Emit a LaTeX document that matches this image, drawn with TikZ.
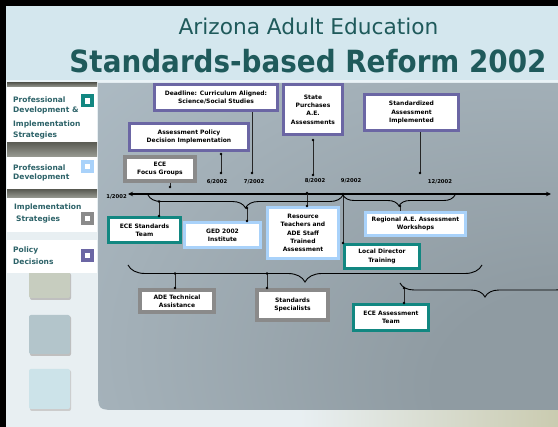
\documentclass[tikz,border=0pt]{standalone}
\usepackage{fontspec}
\setmainfont{DejaVu Sans}
\usepackage{graphicx}
\usepackage{tikz}
\usetikzlibrary{arrows.meta,decorations.pathreplacing}

\definecolor{headblue}{HTML}{D4E7EE}
\definecolor{titleteal}{HTML}{1F5A5B}
\definecolor{sidetext}{HTML}{2C6268}
\definecolor{sidebg}{HTML}{E8EFF2}
\definecolor{stripedark}{HTML}{5F6058}
\definecolor{stripelight}{HTML}{9A9C94}
\definecolor{panelL}{HTML}{B7C6D0}
\definecolor{panelM}{HTML}{A3B0B8}
\definecolor{panelD}{HTML}{8F9BA2}
\definecolor{bottomtan}{HTML}{CACBB0}
\definecolor{boxpurple}{HTML}{6B66A4}
\definecolor{boxteal}{HTML}{128781}
\definecolor{boxblue}{HTML}{A9D2FA}
\definecolor{boxgray}{HTML}{8A8A8A}
\definecolor{sqgreen}{HTML}{C7CDBF}
\definecolor{sqblue}{HTML}{B3C5CB}
\definecolor{sqcyan}{HTML}{CCE3E9}

\pgfdeclareradialshading{panelglow}{\pgfpoint{31bp}{-25bp}}{%
  color(0bp)=(panelD); color(15bp)=(panelD); color(42bp)=(panelM);
  color(72bp)=(panelL); color(110bp)=(panelL)}

\newcommand{\boxfont}{\fontsize{6}{8.3}\selectfont\bfseries}
\newcommand{\datefont}{\fontsize{5.3}{6}\selectfont\bfseries}
\newcommand{\sidefont}{\fontsize{7.5}{11.5}\selectfont\bfseries}

\tikzset{
  box/.style={fill=white, align=center, font=\boxfont, inner sep=1pt},
  purplebox/.style={box, draw=boxpurple, line width=3pt},
  graybox/.style={box, draw=boxgray, line width=4pt},
  tealbox/.style={box, draw=boxteal, line width=3pt},
  bluebox/.style={box, draw=boxblue, line width=3pt},
  datelbl/.style={font=\datefont, inner sep=0pt},
  sidetxt/.style={font=\sidefont, text=sidetext, align=left, inner sep=0pt, anchor=west},
  conn/.style={line width=1pt, black!85},
  timeline/.style={line width=1.4pt, arrows={Stealth[length=5pt,width=4.5pt]-Stealth[length=5pt,width=4.5pt]}},
  bracket/.style={decorate, decoration={brace, mirror, amplitude=#1}, line width=0.9pt}
}

\begin{document}
\begin{tikzpicture}[x=1pt, y=-1pt]
    \useasboundingbox (0,0) rectangle (558,427);

    % Background and frame
    \fill[sidebg] (0,0) rectangle (558,427);
    \shade[left color=sidebg, right color=bottomtan] (300,410) rectangle (558,427);
    \fill[headblue] (6,6) rectangle (558,83);
    \fill[white!50!headblue] (6,80) rectangle (558,83);
    \fill[black] (0,0) rectangle (558,6);
    \fill[black] (0,0) rectangle (6,427);

    % Main panel
    \shade[shading=panelglow] (98,83) -- (558,83) -- (558,410)
        -- (118,410) .. controls (98,410) .. (98,390) -- cycle;

    % Title
    \node[font=\fontsize{21.7}{26}\selectfont, text=titleteal, anchor=base] (title) at (308.5,35) {Arizona Adult Education};
    \node[font=\fontsize{27.8}{32}\selectfont\bfseries, text=titleteal, anchor=base] (subtitle) at (308,73) {\scalebox{1}[1.1]{Standards-based Reform 2002}};

    % Sidebar squares
    \fill[black!25, rounded corners=2pt] (30,273) rectangle (71,300);
    \fill[sqgreen, rounded corners=2pt] (29,271) rectangle (70,298);
    \fill[black!25, rounded corners=2pt] (30,316) rectangle (71,356);
    \fill[sqblue, rounded corners=2pt] (29,315) rectangle (70,354);
    \fill[black!20, rounded corners=2pt] (30,370) rectangle (71,411);
    \fill[sqcyan, rounded corners=2pt] (29,369) rectangle (70,409);

    % Sidebar items
    \shade[top color=stripedark, bottom color=stripelight] (7,83) rectangle (97,87);
    \fill[white] (7,87) rectangle (97,143);
    \shade[top color=stripedark, bottom color=stripelight] (7,143) rectangle (97,157);
    \fill[white] (7,157) rectangle (97,190);
    \shade[top color=stripedark, bottom color=stripelight] (7,190) rectangle (97,198);
    \fill[white] (7,198) rectangle (97,232);
    \fill[white] (7,240) rectangle (97,273);

    \node[sidetxt] (side1) at (13,118) {Professional\\[-1.5pt]Development \&\\[2pt]Implementation\\[-0.5pt]Strategies};
    \node[sidetxt] (side2) at (13,173) {Professional\\[-2pt]Development};
    \node[sidetxt] (side3) at (14,213) {Implementation\\[0.5pt]\hspace*{2pt}Strategies};
    \node[sidetxt] (side4) at (13,256) {Policy\\[0.5pt]Decisions};

    \foreach \c/\y in {boxteal/101, boxblue/166.5, boxgray/218.5, boxpurple/255.5} {
        \fill[\c] (81,\y-6.5) rectangle (94,\y+6.5);
        \fill[white] (84.7,\y-2.8) rectangle (90.3,\y+2.8);
    }

    % Timeline
    \coordinate (tl0) at (128,194);
    \coordinate (tl1) at (551,194);
    \draw[timeline] (tl0) -- (tl1);

    \node[datelbl] (d1) at (116.5,197) {1/2002};
    \node[datelbl] (d6) at (217,182) {6/2002};
    \node[datelbl] (d7) at (254,182) {7/2002};
    \node[datelbl] (d8) at (315,181) {8/2002};
    \node[datelbl] (d9) at (351,181) {9/2002};
    \node[datelbl] (d12) at (440,182) {12/2002};

    % Boxes above the timeline
    \node[purplebox, minimum width=123pt, minimum height=26pt] (deadline) at (216,97.5) {Deadline: Curriculum Aligned:\\Science/Social Studies};
    \node[purplebox, minimum width=119pt, minimum height=27pt] (policy) at (189,137) {Assessment Policy\\Decision Implementation};
    \node[graybox, minimum width=70pt, minimum height=24pt] (focus) at (160,169) {ECE\\Focus Groups};
    \node[purplebox, minimum width=59pt, minimum height=50pt] (purchase) at (313,109.5) {State\\Purchases\\A.E.\\Assessments};
    \node[purplebox, minimum width=94pt, minimum height=36pt] (standard) at (411.5,112.5) {Standardized\\Assessment\\Implemented};

    % Boxes below the timeline
    \node[tealbox, minimum width=72pt, minimum height=25pt] (ecestd) at (144.5,230) {ECE Standards\\Team};
    \node[bluebox, minimum width=76pt, minimum height=25pt] (ged) at (222.5,235) {GED 2002\\Institute};
    \node[bluebox, minimum width=71pt, minimum height=51pt] (resource) at (303,233) {Resource\\Teachers and\\ADE Staff\\Trained\\Assessment};
    \node[tealbox, minimum width=75pt, minimum height=24pt] (localdir) at (382,256.5) {Local Director\\Training};
    \node[bluebox, minimum width=100pt, minimum height=23pt] (regional) at (415.5,224) {Regional A.E. Assessment\\Workshops};
    \node[graybox, minimum width=74pt, minimum height=22pt] (adetech) at (177,301) {ADE Technical\\Assistance};
    \node[graybox, minimum width=71pt, minimum height=30pt] (stdspec) at (292.5,305) {Standards\\Specialists};
    \node[tealbox, minimum width=75pt, minimum height=26pt] (eceassess) at (391,317.5) {ECE Assessment\\Team};

    % Date connectors
    \coordinate (c6a) at (221,154);   \coordinate (c6b) at (221,173);
    \coordinate (c7b) at (252,173);
    \coordinate (cfb) at (170,187);
    \coordinate (c8a) at (313,140);   \coordinate (c8b) at (313,175);
    \coordinate (c12b) at (420,173);
    \coordinate (c9a) at (343,194);
    \coordinate (cra) at (307,193);
    \draw[conn] (c6a) -- (c6b);
    \draw[conn] (deadline.south -| c7b) -- (c7b);
    \draw[conn] (focus.south -| cfb) -- (cfb);
    \draw[conn] (c8a) -- (c8b);
    \draw[conn] (standard.south -| c12b) -- (c12b);
    \draw[conn] (c9a) -- (localdir.north west);
    \draw[conn] (cra) -- (resource.north -| cra);

    % Braces
    \draw[bracket=13pt] (148,195) -- (343,195);
    \draw[bracket=11pt] (343,195) -- (455,195);
    \draw[bracket=17pt] (128,265) -- (482,265);
    \begin{scope}
        \clip (98,83) rectangle (558,410);
        \draw[bracket=14pt] (400,283) -- (570,283);
    \end{scope}

    \coordinate (e1a) at (159,201.5);
    \coordinate (g1a) at (247,208);
    \coordinate (r2a) at (400,206);
    \coordinate (t3a) at (175,273.5);
    \coordinate (s3a) at (267,273.5);
    \coordinate (a4a) at (404,288);
    \draw[conn] (e1a) -- (ecestd.north -| e1a);
    \draw[conn] (g1a) -- (ged.north -| g1a);
    \draw[conn] (r2a) -- (regional.north -| r2a);
    \draw[conn] (t3a) -- (adetech.north -| t3a);
    \draw[conn] (s3a) -- (stdspec.north -| s3a);
    \draw[conn] (a4a) -- (eceassess.north -| a4a);

    % Dots
    \foreach \p in {c6a, c6b, c7b, cfb, c8a, c8b, c12b, c9a, cra, e1a, g1a, r2a, t3a, s3a, a4a,
        localdir.north west, resource.north -| cra, ecestd.north -| e1a, ged.north -| g1a,
        adetech.north -| t3a, stdspec.north -| s3a, eceassess.north -| a4a} {
        \fill (\p) circle (1.3pt);
    }

\end{tikzpicture}
\end{document}
